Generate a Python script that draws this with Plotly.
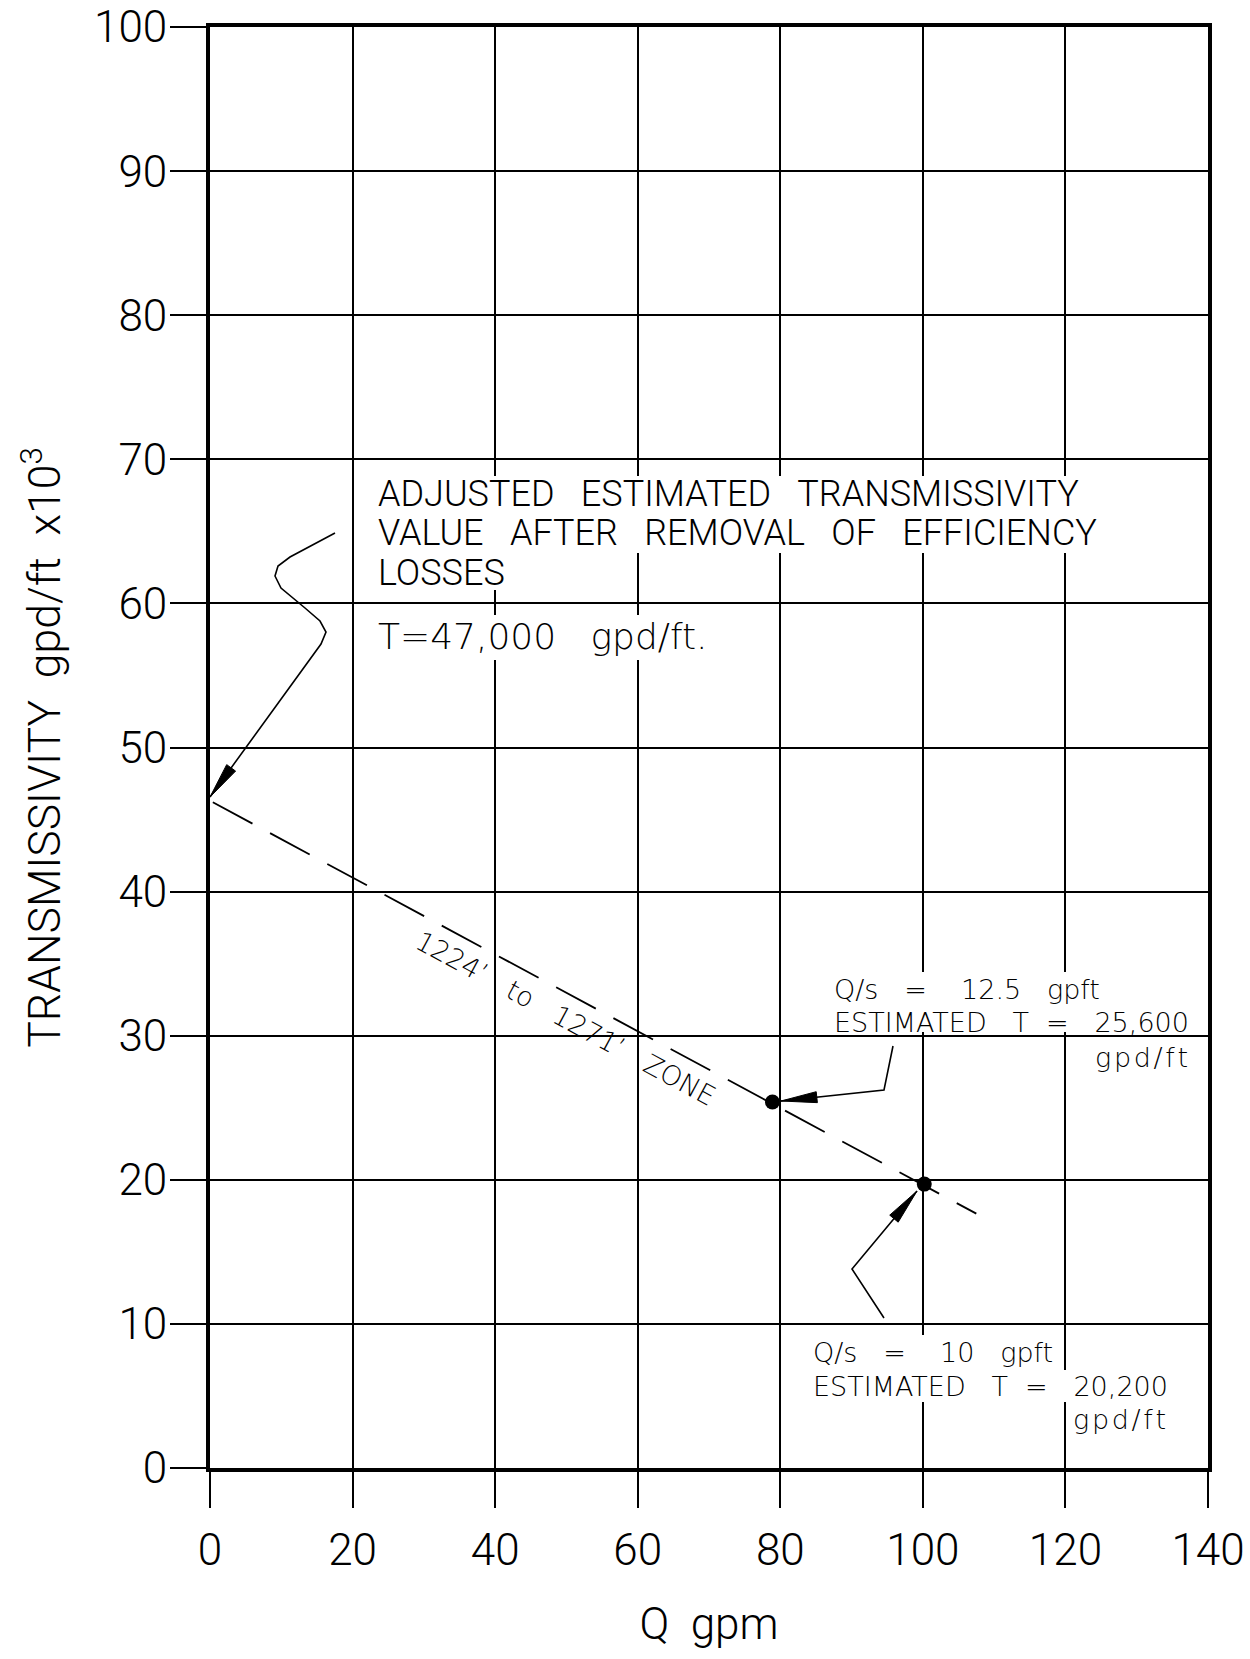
import math
import plotly.graph_objects as go

# ---------------- data ----------------
q_ticks = [0, 20, 40, 60, 80, 100, 120, 140]
t_ticks = [0, 10, 20, 30, 40, 50, 60, 70, 80, 90, 100]
trend_q = [0.4, 107.5]          # dashed trend line (Q gpm)
trend_t = [46.2, 17.65]         # dashed trend line (T x10^3 gpd/ft)
point_q = [78.9, 100.2]         # measured points
point_t = [25.4, 19.7]

# ---------------- layout geometry (page pixels) ----------------
OFF = 0                          # body margin removed by post_script
W, H = 1250, 1659
PLOT_L, PLOT_R, PLOT_T, PLOT_B = 210, 1208, 27, 1468
ML = PLOT_L - OFF
MT = PLOT_T - OFF
MR = W - (PLOT_R - OFF)
MB = H - (PLOT_B - OFF)
PX_X = (PLOT_R - PLOT_L) / 140.0
PX_Y = (PLOT_B - PLOT_T) / 100.0

FONT = "Roboto"
FONT2 = "DejaVu Sans"
FW = 300


def px2d(x, y):
    """page pixel -> data coords"""
    return ((x - PLOT_L) / PX_X, (PLOT_B - y) / PX_Y)


def arrow_head(tip, tail, length=36, half=5.5):
    dx = (tip[0] - tail[0]) * PX_X
    dy = (tip[1] - tail[1]) * PX_Y
    n = math.hypot(dx, dy)
    ux, uy = dx / n, dy / n
    bx = tip[0] * PX_X - ux * length
    by = tip[1] * PX_Y - uy * length
    px_, py_ = -uy, ux
    p1 = ((bx + px_ * half) / PX_X, (by + py_ * half) / PX_Y)
    p2 = ((bx - px_ * half) / PX_X, (by - py_ * half) / PX_Y)
    return dict(type="path", xref="x", yref="y",
                path=f"M{tip[0]},{tip[1]} L{p1[0]},{p1[1]} L{p2[0]},{p2[1]} Z",
                fillcolor="black", line=dict(color="black", width=1), layer="above")


def polyline(pts, width=1.6):
    d = "M" + " L".join(f"{x},{y}" for x, y in pts)
    return dict(type="path", xref="x", yref="y", path=d,
                line=dict(color="black", width=width), layer="above")


def white_rect(x0, x1, y0, y1):
    a = px2d(x0, y1)
    b = px2d(x1, y0)
    return dict(type="rect", xref="x", yref="y", x0=a[0], y0=a[1], x1=b[0], y1=b[1],
                fillcolor="white", line=dict(width=0), layer="between")


fig = go.Figure()

fig.add_trace(go.Scatter(x=trend_q, y=trend_t, mode="lines",
                         line=dict(color="black", width=1.8, dash="45px,20px"),
                         showlegend=False, hoverinfo="skip"))
fig.add_trace(go.Scatter(x=point_q, y=point_t, mode="markers",
                         marker=dict(color="black", size=15),
                         showlegend=False))

shapes = []
# white gaps behind text (gridlines interrupted)
for r in [(375, 1082, 476, 513), (375, 1100, 513, 553), (375, 515, 553, 590),
          (375, 715, 615, 660),
          (830, 1100, 972, 1005), (830, 1190, 1005, 1032), (1088, 1190, 1043, 1075),
          (810, 1058, 1335, 1370), (810, 1170, 1370, 1402), (1072, 1170, 1403, 1432)]:
    shapes.append(white_rect(*r))

# leader 1 (S-curve to the intercept)
lead1 = [px2d(335, 533), px2d(290, 557), px2d(278, 566), px2d(275, 576),
         px2d(281, 588), px2d(305, 608), px2d(320, 621), px2d(326, 632),
         px2d(321, 644)]
tip1 = px2d(210, 797)
shapes.append(polyline(lead1 + [tip1]))
shapes.append(arrow_head(tip1, lead1[-1]))

# leader 2
lead2 = [px2d(893, 1046), px2d(884, 1090)]
tip2 = px2d(781, 1101)
shapes.append(polyline(lead2 + [tip2]))
shapes.append(arrow_head(tip2, lead2[-1]))

# leader 3
lead3 = [px2d(884, 1318), px2d(852, 1269)]
tip3 = px2d(917, 1191)
shapes.append(polyline(lead3 + [tip3]))
shapes.append(arrow_head(tip3, lead3[-1]))

S = "\u00a0\u00a0"
S3 = "\u00a0\u00a0\u00a0"
S4 = "\u00a0\u00a0\u00a0\u00a0"
HS = "\u200a"
GPD = HS.join("gpd/ft")
annotations = []


def txt(text, xy, size, xanchor="left", angle=0, family=FONT):
    x, y = px2d(*xy)
    annotations.append(dict(x=x, y=y, xref="x", yref="y", text=text, showarrow=False,
                            xanchor=xanchor, yanchor="middle", textangle=angle,
                            font=dict(family=family, size=size, color="black", weight=FW)))


txt(f"ADJUSTED{S3}ESTIMATED{S3}TRANSMISSIVITY", (376, 494), 36)
txt(f"VALUE{S3}AFTER{S3}REMOVAL{S3}OF{S3}EFFICIENCY", (376, 533), 36)
txt("LOSSES", (376, 573), 36)
txt(f"T=47,000{S3}gpd/ft.", (376, 636), 36, family=FONT2)

txt(f"Q/s{S3}={S4}12.5{S3}gpft", (832, 989), 27, family=FONT2)
txt(f"ESTIMATED{S3}T{S}={S3}25,600", (832, 1022), 27, family=FONT2)
txt(GPD, (1190, 1057), 27, xanchor="right", family=FONT2)

txt(f"Q/s{S3}={S4}10{S3}gpft", (811, 1352), 27, family=FONT2)
txt(f"ESTIMATED{S3}T{S}={S3}20,200", (811, 1386), 27, family=FONT2)
txt(GPD, (1168, 1419), 27, xanchor="right", family=FONT2)

txt(f"1224’{S3}to{S3}1271’{S3}ZONE", (566, 1018), 27, xanchor="center", angle=28.4,
    family=FONT2)

axis_common = dict(showgrid=True, gridcolor="black", gridwidth=1.8, zeroline=False,
                   showline=True, linecolor="black", linewidth=4, mirror=True,
                   ticks="outside", ticklen=36, tickwidth=1.8, tickcolor="black",
                   ticklabeloverflow="allow", automargin=False,
                   tickfont=dict(family=FONT, size=44, color="black", weight=FW))

fig.update_layout(
    width=W, height=H,
    margin=dict(l=ML, r=MR, t=MT, b=MB, autoexpand=False),
    paper_bgcolor="white", plot_bgcolor="white",
    xaxis=dict(range=[0, 140], tickvals=q_ticks, ticktext=[str(v) for v in q_ticks],
               ticklabelstandoff=4,
               title=dict(text=f"Q{S}gpm", standoff=34,
                          font=dict(family=FONT, size=44, color="black", weight=FW)),
               **axis_common),
    yaxis=dict(range=[0, 100], tickvals=t_ticks, ticktext=[str(v) for v in t_ticks],
               ticklabelstandoff=-6,
               title=dict(text=f"TRANSMISSIVITY{S}gpd/ft{S}x10<sup>3</sup>", standoff=20,
                          font=dict(family=FONT, size=44.5, color="black", weight=FW)),
               **axis_common),
    shapes=shapes,
    annotations=annotations,
)

fig.write_html("out.html",
               config={"displayModeBar": False},
               post_script="document.body.style.margin='0';document.body.style.padding='0';")
